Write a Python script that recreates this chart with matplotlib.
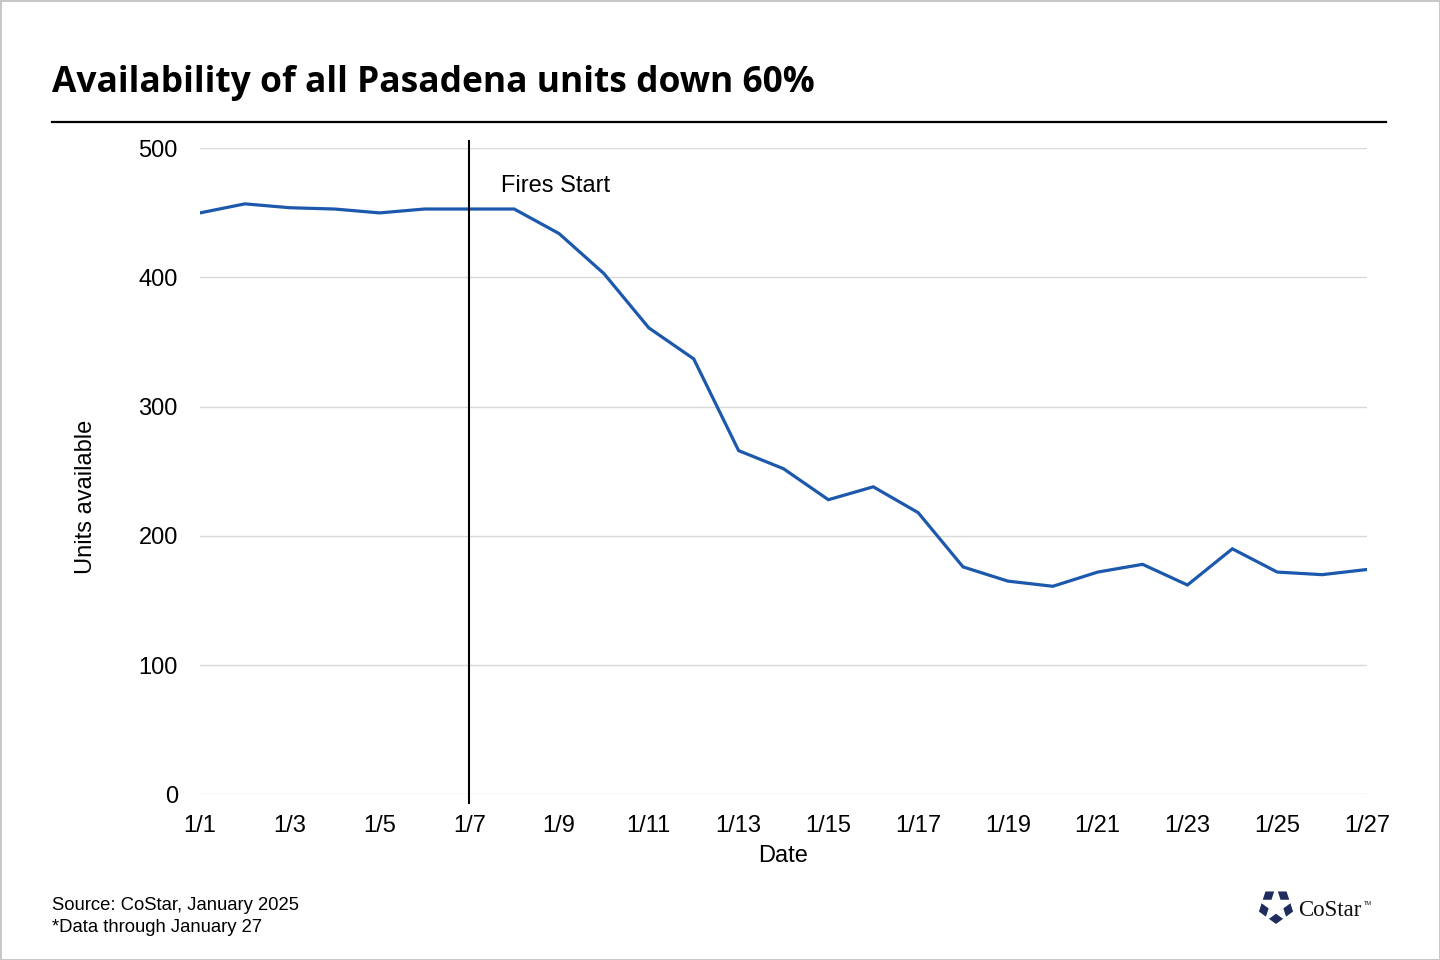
import numpy as np
import matplotlib
matplotlib.use("Agg")
import matplotlib.pyplot as plt
from matplotlib.patches import Polygon, RegularPolygon

# Data (units available per day, January 2025)
dates = ["1/%d" % d for d in range(1, 28)]
units = [450, 457, 454, 453, 450, 453, 453, 453, 434, 403, 361, 337,
         266, 252, 228, 238, 218, 176, 165, 161, 172, 178, 162, 190,
         172, 170, 174]
tick_labels = dates[::2]
fire_day = "1/7"
y_ticks = [0, 100, 200, 300, 400, 500]

title = "Availability of all Pasadena units down 60%"
source_lines = ["Source: CoStar, January 2025", "*Data through January 27"]

plt.rcParams['font.family'] = ['Liberation Sans', 'DejaVu Sans']

fig = plt.figure(figsize=(14.4, 9.6), dpi=100, facecolor='white',
                 edgecolor='#c8c8c8', linewidth=2)
ax = fig.add_axes([200 / 1440, 1 - 794.3 / 960, 1167 / 1440, 646 / 960])

x = np.arange(len(dates))
ax.plot(x, units, color='#1c58ab', linewidth=2.3, solid_joinstyle='miter', zorder=3)

# event marker line for fires
fx = dates.index(fire_day)
ax.plot([fx, fx], [-7, 506], color='black', linewidth=1.5, clip_on=False, zorder=4)
ax.text(fx + 0.71, 471, "Fires Start", fontsize=17, va='center', ha='left')

ax.set_xlim(0, len(dates) - 1)
ax.set_ylim(0, 500)
ax.set_xticks(x[::2])
ax.set_xticklabels(tick_labels)
ax.set_yticks(y_ticks)
ax.tick_params(axis='both', length=0, labelsize=17)
ax.tick_params(axis='y', pad=16)
ax.tick_params(axis='x', pad=15)
ax.grid(axis='y', color='#d9d9d9', linewidth=1)
ax.set_axisbelow(True)
for s in ax.spines.values():
    s.set_visible(False)
ax.set_xlabel("Date", fontsize=17, labelpad=6)

fig.text(86 / 1440, 1 - 497 / 960, "Units available", rotation=90,
         fontsize=17, ha='center', va='center')

# title and rule
fig.text(52 / 1440, 1 - 92 / 960, title, fontsize=25.5, fontweight='bold',
         family=['Open Sans', 'DejaVu Sans'], ha='left', va='baseline')
fig.add_artist(plt.Line2D([52 / 1440, 1386 / 1440], [1 - 122 / 960] * 2,
                          color='black', linewidth=1.6))

# source notes
fig.text(52 / 1440, 1 - 906 / 960, source_lines[0], fontsize=13.3, va='center')
fig.text(52 / 1440, 1 - 928 / 960, source_lines[1], fontsize=13.3, va='center')

# CoStar logo (approximation)
navy = '#1e2c5e'
lax = fig.add_axes([1258 / 1440, 1 - 924 / 960, 36 / 1440, 36 / 960])
lax.set_xlim(-1, 1)
lax.set_ylim(-1, 1)
lax.set_aspect('equal')
lax.axis('off')
lax.add_patch(RegularPolygon((0, 0), 5, radius=0.95, orientation=np.pi / 5,
                             color=navy))
ang = np.pi / 2 + np.arange(10) * np.pi / 5
rad = np.where(np.arange(10) % 2 == 0, 1.0, 0.38)
star = np.column_stack([rad * np.cos(ang), rad * np.sin(ang)])
lax.add_patch(Polygon(star, closed=True, color='white'))
fig.text(1298 / 1440, 1 - 916 / 960, "CoStar", fontsize=16.5,
         family=['Liberation Serif', 'DejaVu Serif'], color='#111111',
         ha='left', va='baseline')
fig.text(1364 / 1440, 1 - 905 / 960, "TM", fontsize=4,
         color='#111111', ha='left', va='baseline')

fig.savefig("out.png", dpi=100)
